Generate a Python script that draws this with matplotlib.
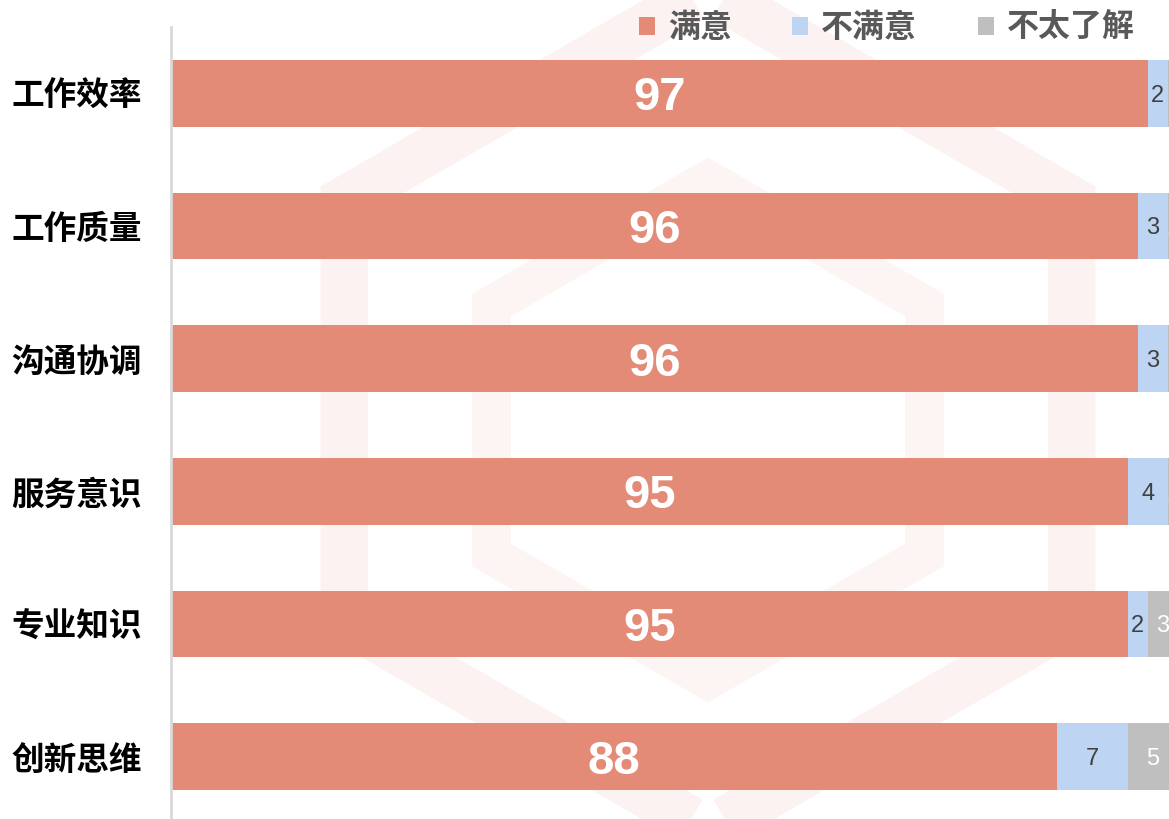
import numpy as np
import matplotlib.pyplot as plt
from matplotlib.patches import RegularPolygon

plt.rcParams['font.family'] = ['Noto Sans CJK SC', 'DejaVu Sans']

# Survey results per item (percent)
categories = ['工作效率', '工作质量', '沟通协调', '服务意识', '专业知识', '创新思维']
satisfied = [97, 96, 96, 95, 95, 88]
unsatisfied = [2, 3, 3, 4, 2, 7]
unknown = [2, 1, 2, 1, 3, 5]
series_names = ['满意', '不满意', '不太了解']

colors = ['#E48B77', '#BED4F3', '#BFBFBF']
label_colors = ['white', '#404040', 'white']
label_sizes = [34, 17, 17]

fig = plt.figure(figsize=(11.69, 8.19), dpi=100)

# faint logo watermark in the background
bg = fig.add_axes([0, 0, 1, 1], zorder=0)
bg.set_xlim(0, 1169)
bg.set_ylim(819, 0)
bg.axis('off')
bg.add_patch(RegularPolygon((708, 410), 6, radius=420, orientation=0,
                            fill=False, edgecolor='#FDF2F2', lw=34))
bg.add_patch(RegularPolygon((708, 430), 6, radius=250, orientation=0,
                            fill=False, edgecolor='#FDF4F4', lw=28))

ax = fig.add_axes([171 / 1169, -4 / 819, 998 / 1169, 796 / 819], zorder=1)
ax.patch.set_alpha(0)

y = np.arange(len(categories))
left = np.zeros(len(categories))
bars = []
for vals, name, col, lc, fs in zip([satisfied, unsatisfied, unknown], series_names,
                                   colors, label_colors, label_sizes):
    b = ax.barh(y, vals, left=left, height=0.505, color=col, label=name)
    bars.append(b)
    for yi, l, v in zip(y, left, vals):
        ax.text(l + v / 2, yi, str(v), ha='center', va='center_baseline', color=lc,
                fontsize=fs, fontweight='bold' if fs > 20 else 'normal',
                family='Liberation Sans', clip_on=True)
    left = left + np.array(vals)

ax.set_xlim(0, 99.1)
ax.set_ylim(len(categories) - 0.5, -0.5)
ax.set_yticks(y)
ax.set_yticklabels(categories, fontsize=23.5, fontweight='bold', color='black')
ax.tick_params(axis='y', length=0, pad=21)
ax.set_xticks([])
for s in ['top', 'right', 'bottom']:
    ax.spines[s].set_visible(False)
ax.spines['left'].set_color('#D9D9D9')
ax.spines['left'].set_linewidth(2)

fig.legend(handles=bars, labels=series_names, loc='center left',
           bbox_to_anchor=(639 / 1169, 1 - 28 / 819), ncol=3, frameon=False,
           prop={'size': 23, 'weight': 'bold'}, labelcolor='#595959',
           handlelength=0.5, handleheight=0.5, handletextpad=0.4,
           columnspacing=1.9, borderpad=0, borderaxespad=0)

fig.savefig('out.png', dpi=100)
